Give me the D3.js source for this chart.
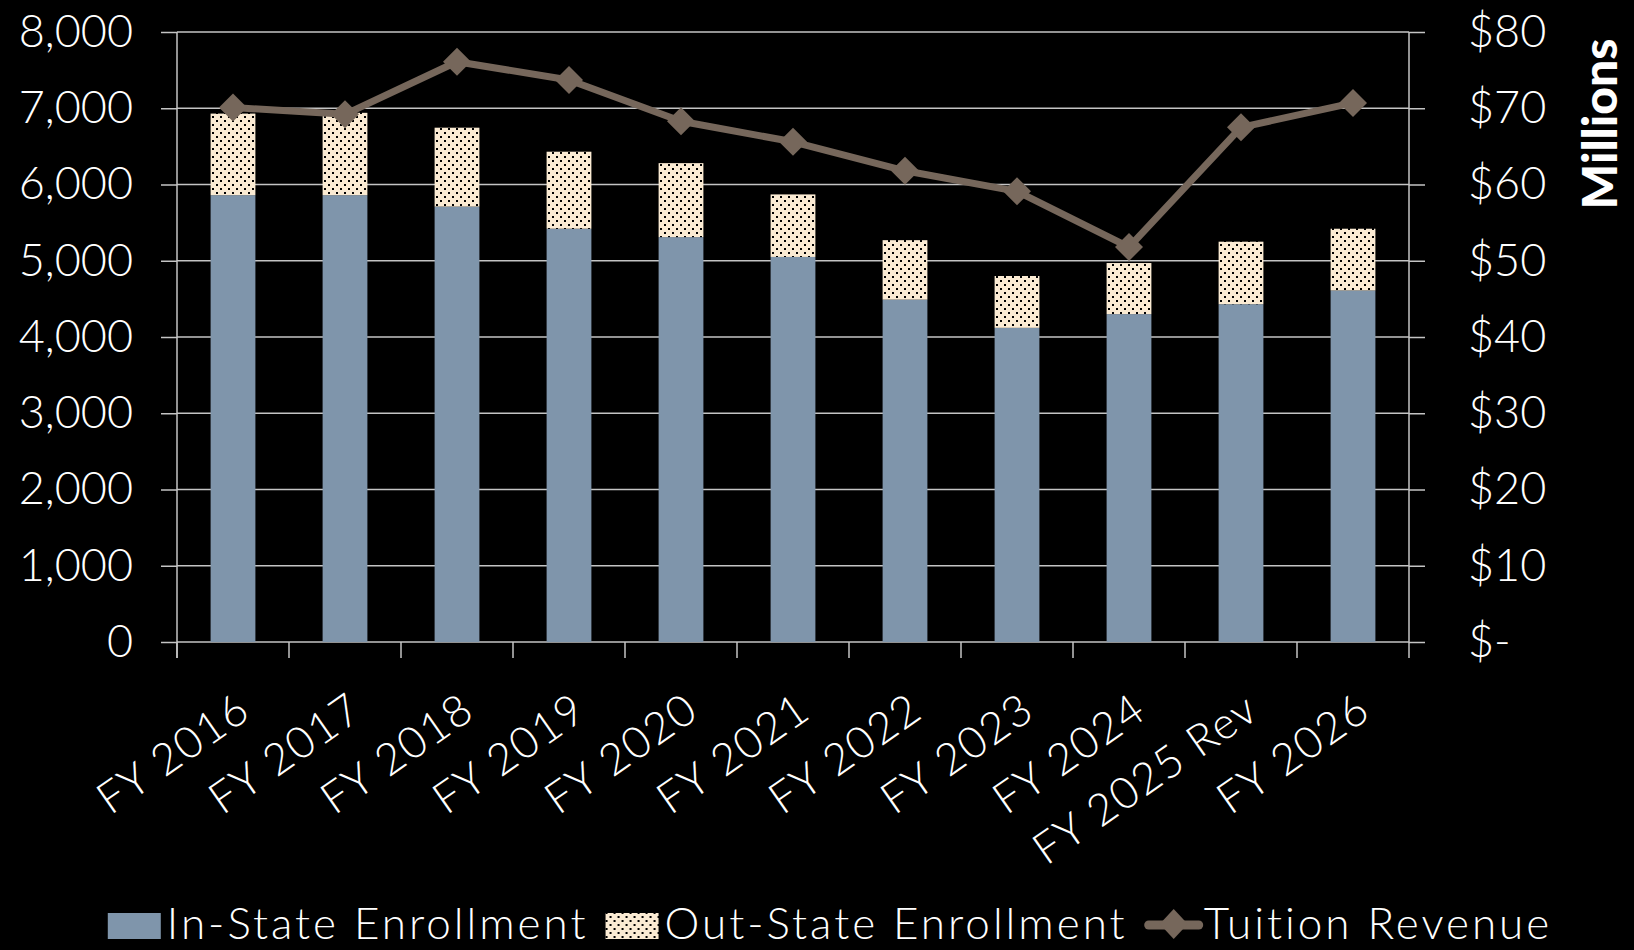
<!DOCTYPE html>
<html>
<head>
<meta charset="utf-8">
<script src="https://cdn.jsdelivr.net/npm/d3@7"></script>
<style>
  body { margin: 0; background: #000; }
  text { font-family: Lato, 'Open Sans', sans-serif; fill: #fff; font-weight: 300; }
</style>
</head>
<body>
<svg id="chart" width="1634" height="950"></svg>
<script>
// chart values
var categories = ['FY 2016', 'FY 2017', 'FY 2018', 'FY 2019', 'FY 2020', 'FY 2021', 'FY 2022', 'FY 2023', 'FY 2024', 'FY 2025 Rev', 'FY 2026']
var in_state = [5860, 5860, 5710, 5420, 5310, 5050, 4490, 4120, 4300, 4430, 4610]
var out_state = [1070, 1080, 1035, 1010, 970, 820, 780, 680, 670, 820, 810]
var tuition_revenue = [70.1, 69.2, 76.1, 73.7, 68.3, 65.6, 61.8, 59.1, 51.8, 67.5, 70.7]
var enrollment_ticks = [0, 1000, 2000, 3000, 4000, 5000, 6000, 7000, 8000]
var revenue_ticks = [0, 10, 20, 30, 40, 50, 60, 70, 80]
var legend_labels = ['In-State Enrollment', 'Out-State Enrollment', 'Tuition Revenue']

// plot area
var plot = { left: 177, right: 1409, top: 32, bottom: 642 }
var tickLen = 16
var lineColor = '#76675b'
var gridColor = '#c4c4c4'

var svg = d3.select('#chart')

// dotted pattern for out-of-state bars
var pat = svg.append('defs').append('pattern')
  .attr('id', 'dots')
  .attr('width', 8).attr('height', 8)
  .attr('patternUnits', 'userSpaceOnUse')
pat.append('rect').attr('width', 8).attr('height', 8).attr('fill', '#fbebd3')
pat.append('rect').attr('x', 0).attr('y', 0).attr('width', 2).attr('height', 2).attr('fill', '#000')
pat.append('rect').attr('x', 4).attr('y', 4).attr('width', 2).attr('height', 2).attr('fill', '#000')

// scales
var slot = d3.scaleBand().domain(categories).range([plot.left, plot.right]).padding(0)
var x = d3.scaleBand().domain(categories).range([plot.left, plot.right]).paddingInner(0.6).paddingOuter(0.3)
var y = d3.scaleLinear().domain([0, 8000]).range([plot.bottom, plot.top])
var y2 = d3.scaleLinear().domain([0, 80]).range([plot.bottom, plot.top])

// gridlines
svg.append('g')
  .selectAll('line')
  .data(enrollment_ticks)
  .enter()
  .append('line')
  .attr('x1', plot.left).attr('x2', plot.right)
  .attr('y1', d => y(d)).attr('y2', d => y(d))
  .attr('stroke', gridColor).attr('stroke-width', 1.5)

// left axis
var leftAxis = svg.append('g')
  .attr('transform', 'translate(' + plot.left + ',0)')
  .call(d3.axisLeft(y).tickValues(enrollment_ticks).tickSize(tickLen).tickPadding(28).tickFormat(d3.format(',')))
leftAxis.select('.domain').remove()
leftAxis.selectAll('line').attr('stroke', gridColor).attr('stroke-width', 1.5)
leftAxis.selectAll('text').style('font-size', '45px').attr('fill', '#fff')
leftAxis.attr('font-family', null)

// right axis
var rightAxis = svg.append('g')
  .attr('transform', 'translate(' + plot.right + ',0)')
  .call(d3.axisRight(y2).tickValues(revenue_ticks).tickSize(tickLen).tickPadding(43)
    .tickFormat(d => d === 0 ? '$-' : '$' + d))
rightAxis.select('.domain').remove()
rightAxis.selectAll('line').attr('stroke', gridColor).attr('stroke-width', 1.5)
rightAxis.selectAll('text').style('font-size', '45px').attr('fill', '#fff')
rightAxis.attr('font-family', null)

// vertical axis lines
svg.append('line')
  .attr('x1', plot.left).attr('x2', plot.left)
  .attr('y1', plot.top).attr('y2', plot.bottom + tickLen)
  .attr('stroke', gridColor).attr('stroke-width', 1.5)
svg.append('line')
  .attr('x1', plot.right).attr('x2', plot.right)
  .attr('y1', plot.top).attr('y2', plot.bottom + tickLen)
  .attr('stroke', gridColor).attr('stroke-width', 1.5)

// category ticks
svg.append('g')
  .selectAll('line')
  .data(categories)
  .enter()
  .append('line')
  .attr('x1', d => slot(d)).attr('x2', d => slot(d))
  .attr('y1', plot.bottom).attr('y2', plot.bottom + tickLen)
  .attr('stroke', gridColor).attr('stroke-width', 1.5)

// category labels
svg.append('g')
  .selectAll('text')
  .data(categories)
  .enter()
  .append('text')
  .attr('transform', d => 'translate(' + (slot(d) + slot.bandwidth() / 2 + 20) + ',716) rotate(-35)')
  .attr('text-anchor', 'end')
  .style('font-size', '44px')
  .style('letter-spacing', '1.5px')
  .text(d => d)

// stacked bars
var bars = svg.append('g')
bars.selectAll('.in-state')
  .data(categories)
  .enter()
  .append('rect')
  .attr('class', 'in-state')
  .attr('x', d => x(d))
  .attr('width', x.bandwidth())
  .attr('y', (d, i) => y(in_state[i]))
  .attr('height', (d, i) => y(0) - y(in_state[i]))
  .attr('fill', '#7f95ab')
bars.selectAll('.out-state')
  .data(categories)
  .enter()
  .append('rect')
  .attr('class', 'out-state')
  .attr('x', d => x(d))
  .attr('width', x.bandwidth())
  .attr('y', (d, i) => y(in_state[i] + out_state[i]))
  .attr('height', (d, i) => y(in_state[i]) - y(in_state[i] + out_state[i]))
  .attr('fill', 'url(#dots)')

// revenue line
var cx = d => slot(d) + slot.bandwidth() / 2
var line = d3.line()
  .x((d, i) => cx(categories[i]))
  .y(d => y2(d))
svg.append('path')
  .datum(tuition_revenue)
  .attr('d', line)
  .attr('fill', 'none')
  .attr('stroke', lineColor)
  .attr('stroke-width', 7)
  .attr('stroke-linejoin', 'round')

var diamond = 'M0,-14L14,0L0,14L-14,0Z'
svg.append('g')
  .selectAll('path')
  .data(tuition_revenue)
  .enter()
  .append('path')
  .attr('d', diamond)
  .attr('transform', (d, i) => 'translate(' + cx(categories[i]) + ',' + y2(d) + ')')
  .attr('fill', lineColor)

// secondary axis title
svg.append('text')
  .attr('transform', 'translate(1598,124) rotate(-90)')
  .attr('text-anchor', 'middle')
  .attr('dominant-baseline', 'central')
  .style('font-size', '48px')
  .style('font-weight', '900')
  .text('Millions')

// legend
var legend = svg.append('g')
var lx = 0
var baseY = 939
legend_labels.forEach((label, i) => {
  var g = legend.append('g').attr('transform', 'translate(' + lx + ',0)')
  if (i < 2) {
    g.append('rect')
      .attr('x', 0).attr('y', baseY - 26).attr('width', 53).attr('height', 26)
      .attr('fill', i === 0 ? '#7f95ab' : 'url(#dots)')
  } else {
    g.append('line')
      .attr('x1', 4).attr('x2', 54).attr('y1', baseY - 14).attr('y2', baseY - 14)
      .attr('stroke', lineColor).attr('stroke-width', 9).attr('stroke-linecap', 'round')
    g.append('path')
      .attr('d', 'M0,-15L14,0L0,15L-14,0Z')
      .attr('transform', 'translate(29,' + (baseY - 15) + ')')
      .attr('fill', lineColor)
  }
  var t = g.append('text')
    .attr('x', 59).attr('y', baseY)
    .style('font-size', '44px')
    .style('letter-spacing', '3px')
    .text(label)
  lx += 59 + t.node().getComputedTextLength() + 17
})
var legendWidth = lx - 17
legend.attr('transform', 'translate(' + (830 - legendWidth / 2) + ',0)')
</script>
</body>
</html>
